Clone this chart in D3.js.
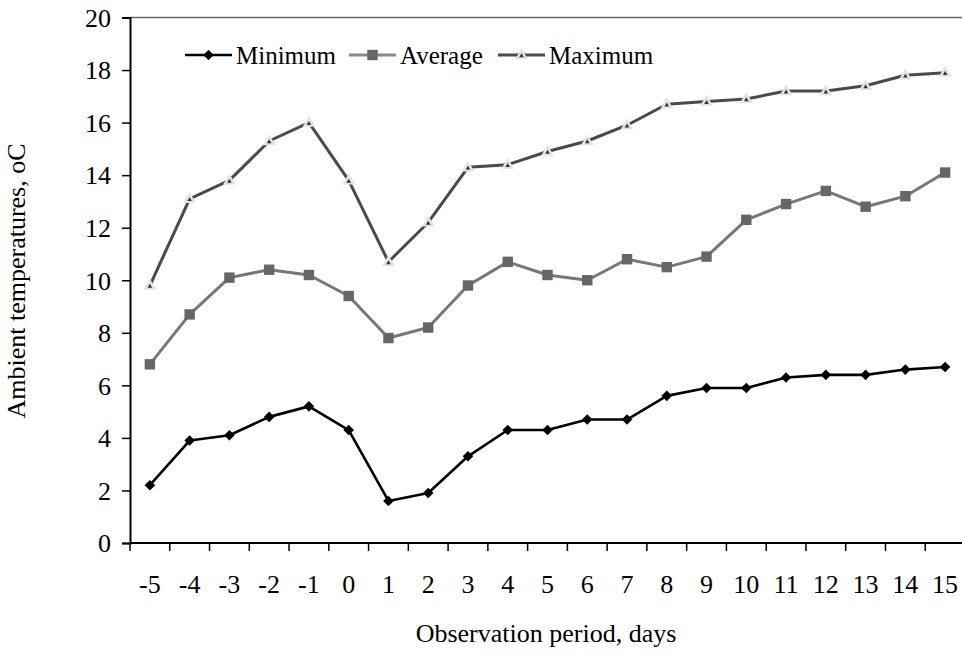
<!DOCTYPE html>
<html>
<head>
<meta charset="utf-8">
<script src="https://cdn.jsdelivr.net/npm/d3@7"></script>
<style>
  html, body { margin: 0; padding: 0; background: #fff; }
  svg { display: block; font-family: "Liberation Serif", "Times New Roman", serif; }
</style>
</head>
<body>
<svg id="chart" width="962" height="670"></svg>
<script>
const days = ["-5","-4","-3","-2","-1","0","1","2","3","4","5","6","7","8","9","10","11","12","13","14","15"];
const minimum = [2.2, 3.9, 4.1, 4.8, 5.2, 4.3, 1.6, 1.9, 3.3, 4.3, 4.3, 4.7, 4.7, 5.6, 5.9, 5.9, 6.3, 6.4, 6.4, 6.6, 6.7];
const average = [6.8, 8.7, 10.1, 10.4, 10.2, 9.4, 7.8, 8.2, 9.8, 10.7, 10.2, 10.0, 10.8, 10.5, 10.9, 12.3, 12.9, 13.4, 12.8, 13.2, 14.1];
const maximum = [9.8, 13.1, 13.8, 15.3, 16.0, 13.8, 10.7, 12.2, 14.3, 14.4, 14.9, 15.3, 15.9, 16.7, 16.8, 16.9, 17.2, 17.2, 17.4, 17.8, 17.9];
const yTicks = [0, 2, 4, 6, 8, 10, 12, 14, 16, 18, 20];
const seriesNames = ["Minimum", "Average", "Maximum"];

const svg = d3.select("#chart");
const pLeft = 130, pRight = 965, pTop = 17.5, pBottom = 543;

const x = d3.scaleBand().domain(days).range([pLeft, pRight]).padding(0);
const y = d3.scaleLinear().domain([0, 20]).range([pBottom, pTop]);
const cx = d => x(d) + x.bandwidth() / 2;

// top border
svg.append("line").attr("x1", pLeft).attr("x2", pRight).attr("y1", pTop).attr("y2", pTop)
  .attr("stroke", "#666").attr("stroke-width", 1.6);

// Y axis
const yAxis = d3.axisLeft(y).tickValues(yTicks).tickSize(8).tickPadding(11).tickFormat(d3.format("d"));
const gy = svg.append("g").attr("transform", `translate(${pLeft},0)`).call(yAxis);
gy.select(".domain").attr("stroke", "#000").attr("stroke-width", 2);
gy.selectAll(".tick line").attr("stroke", "#000").attr("stroke-width", 1.5);
gy.selectAll(".tick text").attr("font-size", 26).attr("font-family", "Liberation Serif").attr("fill", "#000").attr("dy", "0.34em");

// X axis (labels centred in bands, ticks at band boundaries)
const gx = svg.append("g").attr("transform", `translate(0,${pBottom})`);
gx.append("line").attr("x1", pLeft).attr("x2", pRight).attr("y1", 0).attr("y2", 0)
  .attr("stroke", "#000").attr("stroke-width", 2);
const bounds = days.map(d => x(d)).concat([x(days[days.length - 1]) + x.bandwidth()]);
gx.selectAll("line.tk").data(bounds).join("line").attr("class", "tk")
  .attr("x1", d => d).attr("x2", d => d).attr("y1", 0).attr("y2", 8)
  .attr("stroke", "#000").attr("stroke-width", 1.5);
gx.selectAll("text").data(days).join("text")
  .attr("x", d => cx(d)).attr("y", 50)
  .attr("text-anchor", "middle").attr("font-size", 26).attr("fill", "#000")
  .text(d => d);

// Axis titles
svg.append("text").attr("transform", "translate(25,281) rotate(-90)")
  .attr("text-anchor", "middle").attr("font-size", 26).attr("fill", "#000")
  .text("Ambient temperatures, oC");
svg.append("text").attr("x", 546).attr("y", 642)
  .attr("text-anchor", "middle").attr("font-size", 26).attr("fill", "#000")
  .text("Observation period, days");

// Series
const styles = {
  Minimum: { stroke: "#000", width: 2.6 },
  Average: { stroke: "#777", width: 3 },
  Maximum: { stroke: "#4a4a4a", width: 3 }
};
const data = { Minimum: minimum, Average: average, Maximum: maximum };

function drawMarker(g, name, px, py) {
  if (name === "Minimum") {
    g.append("path").attr("d", d3.symbol(d3.symbolSquare, 56)())
      .attr("transform", `translate(${px},${py}) rotate(45)`).attr("fill", "#000");
  } else if (name === "Average") {
    g.append("rect").attr("x", px - 5.2).attr("y", py - 5.2).attr("width", 10.4).attr("height", 10.4)
      .attr("fill", "#666");
  } else {
    g.append("path").attr("d", d3.symbol(d3.symbolTriangle, 70)())
      .attr("transform", `translate(${px},${py + 0.5})`).attr("fill", "#e3e3e3");
    g.append("path").attr("d", d3.symbol(d3.symbolTriangle, 9)())
      .attr("transform", `translate(${px},${py + 1})`).attr("fill", "#333");
  }
}

seriesNames.forEach(name => {
  const vals = data[name];
  const line = d3.line().x((v, i) => cx(days[i])).y(v => y(v));
  svg.append("path").datum(vals).attr("d", line).attr("fill", "none")
    .attr("stroke", styles[name].stroke).attr("stroke-width", styles[name].width)
    .attr("stroke-linejoin", "round");
  const g = svg.append("g");
  vals.forEach((v, i) => drawMarker(g, name, cx(days[i]), y(v)));
});

// Legend
const legendX = [185, 349, 498];
seriesNames.forEach((name, i) => {
  const g = svg.append("g");
  const lx = legendX[i], ly = 55;
  g.append("line").attr("x1", lx).attr("x2", lx + 47).attr("y1", ly).attr("y2", ly)
    .attr("stroke", name === "Average" ? "#8a8a8a" : styles[name].stroke).attr("stroke-width", styles[name].width);
  drawMarker(g, name, lx + 23.5, ly);
  g.append("text").attr("x", lx + 51).attr("y", ly + 9).attr("font-size", 25).attr("fill", "#000").text(name);
});
</script>
</body>
</html>
